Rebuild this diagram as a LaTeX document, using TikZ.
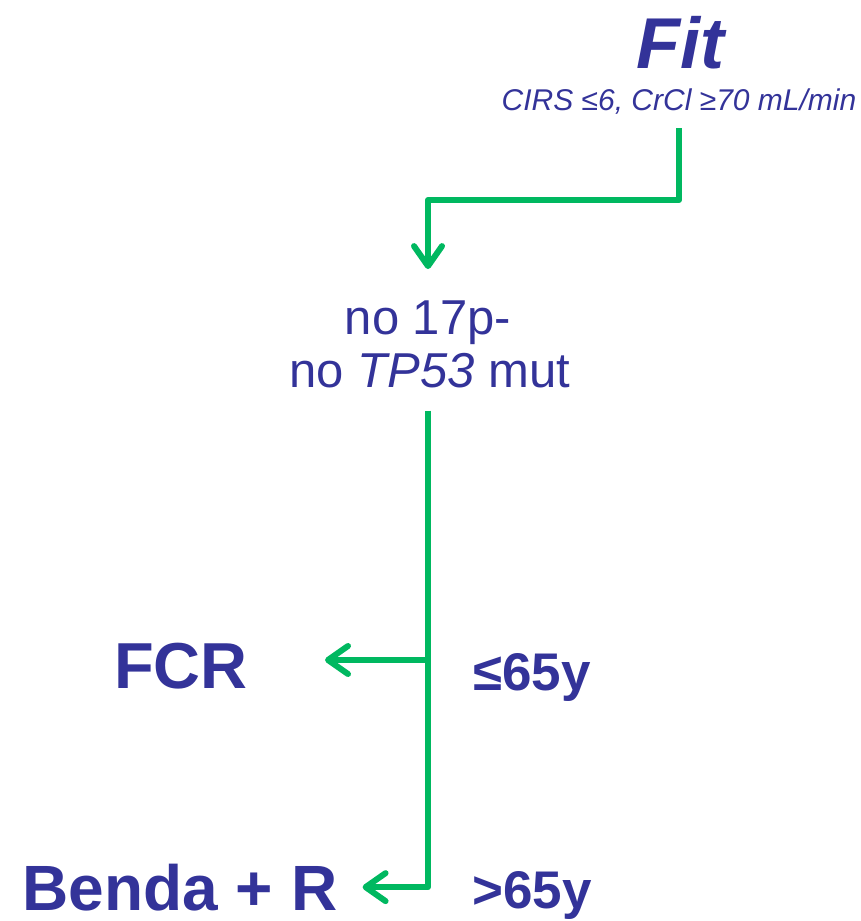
\documentclass[tikz,border=0pt]{standalone}
\usepackage{fontspec}
\setmainfont{Liberation Sans}
\usetikzlibrary{positioning,arrows.meta}
\definecolor{txtblue}{RGB}{51,51,153}
\definecolor{arrgreen}{RGB}{0,184,96}

\begin{document}
\begin{tikzpicture}[
  x=1pt, y=-1pt,
  txt/.style={text=txtblue, inner sep=0pt, anchor=base},
  arr/.style={-{Straight Barb[length=20pt, width=28pt, line cap=round, line join=round]}, line width=6pt, arrgreen, line join=round}
]
\useasboundingbox (0,0) rectangle (861,921);

\node[txt, font=\bfseries\itshape\fontsize{72}{86}\selectfont] (fit) at (680,68) {Fit};
\node[txt, font=\itshape\fontsize{30}{36}\selectfont] (cond) at (679,110) {CIRS ≤6, CrCl ≥70 mL/min};
\node[txt, font=\fontsize{49}{54}\selectfont] (p17) at (428,334) {no 17p-};
\node[txt, font=\fontsize{49}{54}\selectfont] (tp53) at (430,387) {no \textit{TP53} mut};
\node[txt, font=\bfseries\fontsize{65}{78}\selectfont] (fcr) at (181,688) {FCR};
\node[txt, font=\bfseries\fontsize{53}{64}\selectfont] (young) at (532,690) {≤65y};
\node[txt, font=\bfseries\fontsize{64}{77}\selectfont] (benda) at (180,910) {Benda + R};
\node[txt, font=\bfseries\fontsize{53}{64}\selectfont] (old) at (532,908) {>65y};

\coordinate (bend) at (428,200);
\coordinate (split) at (428,660);

\draw[arr, shorten <=14pt, shorten >=31pt] (cond.south) |- (bend) -- (p17.north -| bend);
\draw[arr, shorten <=23pt, shorten >=25pt] (tp53.south -| bend) |- (benda.east);
\draw[arr, shorten >=77pt] (split) -- (split -| fcr.east);
\end{tikzpicture}
\end{document}
